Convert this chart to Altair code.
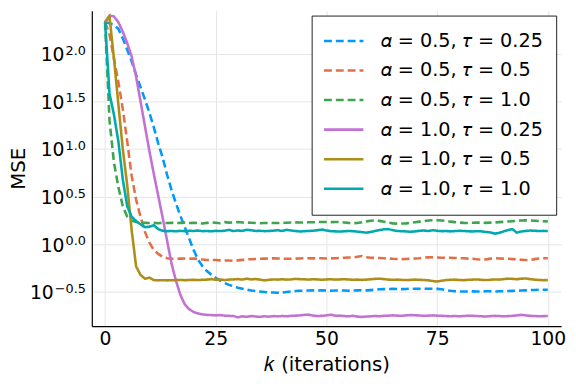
import altair as alt
import pandas as pd

FONT = "DejaVu Sans"

k_values = list(range(101))

series_labels = [
    "𝛼 = 0.5, 𝜏 = 0.25",
    "𝛼 = 0.5, 𝜏 = 0.5",
    "𝛼 = 0.5, 𝜏 = 1.0",
    "𝛼 = 1.0, 𝜏 = 0.25",
    "𝛼 = 1.0, 𝜏 = 0.5",
    "𝛼 = 1.0, 𝜏 = 1.0",
]
series_colors = ["#009AFA", "#E36F47", "#3EA44E", "#C371D2", "#AC8E18", "#00A9AD"]
series_dashes = [[8, 4], [8, 4], [8, 4], [1, 0], [1, 0], [1, 0]]

# log10(MSE), k = 0..100
log_mse_a05_t025 = [
    2.33, 2.32, 2.30, 2.26, 2.16, 2.04, 1.92, 1.78, 1.65, 1.52,
    1.38, 1.23, 1.06, 0.91, 0.73, 0.57, 0.43, 0.30, 0.18, 0.06,
    -0.06, -0.16, -0.23, -0.28, -0.32, -0.35, -0.38, -0.405, -0.425, -0.44,
    -0.455, -0.465, -0.475, -0.485, -0.49, -0.495, -0.50, -0.505, -0.505, -0.507,
    -0.505, -0.50, -0.495, -0.49, -0.487, -0.485, -0.485, -0.483, -0.484, -0.483,
    -0.485, -0.486, -0.485, -0.484, -0.485, -0.486, -0.484, -0.483, -0.482, -0.483,
    -0.48, -0.476, -0.472, -0.47, -0.468, -0.467, -0.469, -0.47, -0.468, -0.466,
    -0.466, -0.467, -0.466, -0.465, -0.466, -0.467, -0.472, -0.48, -0.487, -0.492,
    -0.494, -0.495, -0.494, -0.493, -0.495, -0.494, -0.493, -0.492, -0.494, -0.493,
    -0.492, -0.49, -0.488, -0.486, -0.485, -0.483, -0.48, -0.478, -0.477, -0.476,
    -0.476,
]
log_mse_a05_t05 = [
    2.33, 2.20, 1.95, 1.70, 1.42, 1.08, 0.72, 0.47, 0.29, 0.13,
    0.02, -0.06, -0.10, -0.13, -0.145, -0.15, -0.152, -0.15, -0.148, -0.152,
    -0.15, -0.153, -0.16, -0.165, -0.163, -0.165, -0.168, -0.170, -0.17, -0.172,
    -0.168, -0.163, -0.158, -0.156, -0.153, -0.152, -0.15, -0.148, -0.147, -0.149,
    -0.150, -0.152, -0.151, -0.150, -0.148, -0.146, -0.145, -0.147, -0.145, -0.146,
    -0.148, -0.147, -0.145, -0.143, -0.14, -0.138, -0.137, -0.13, -0.122, -0.135,
    -0.14, -0.143, -0.144, -0.146, -0.149, -0.152, -0.153, -0.155, -0.153, -0.15,
    -0.148, -0.145, -0.14, -0.137, -0.135, -0.138, -0.14, -0.142, -0.14, -0.143,
    -0.145, -0.146, -0.15, -0.152, -0.157, -0.16, -0.158, -0.15, -0.146, -0.148,
    -0.15, -0.152, -0.155, -0.158, -0.162, -0.165, -0.163, -0.155, -0.148, -0.145,
    -0.145,
]
log_mse_a05_t10 = [
    2.33, 1.30, 0.86, 0.60, 0.40, 0.29, 0.25, 0.235, 0.228, 0.225,
    0.223, 0.225, 0.222, 0.226, 0.224, 0.227, 0.222, 0.225, 0.228, 0.224,
    0.226, 0.222, 0.219, 0.225, 0.229, 0.226, 0.222, 0.233, 0.228, 0.23,
    0.234, 0.23, 0.228, 0.226, 0.224, 0.222, 0.224, 0.224, 0.223, 0.224,
    0.226, 0.227, 0.229, 0.23, 0.229, 0.23, 0.231, 0.232, 0.233, 0.234,
    0.234, 0.233, 0.234, 0.234, 0.23, 0.225, 0.222, 0.224, 0.232, 0.241,
    0.247, 0.25, 0.246, 0.238, 0.228, 0.22, 0.217, 0.218, 0.22, 0.226,
    0.232, 0.238, 0.244, 0.25, 0.252, 0.252, 0.25, 0.245, 0.238, 0.233,
    0.228, 0.225, 0.224, 0.226, 0.228, 0.227, 0.225, 0.228, 0.23, 0.233,
    0.236, 0.239, 0.243, 0.247, 0.25, 0.252, 0.25, 0.247, 0.244, 0.242,
    0.241,
]
log_mse_a10_t025 = [
    2.33, 2.40, 2.39, 2.33, 2.23, 2.11, 1.97, 1.76, 1.50, 1.24,
    0.98, 0.74, 0.51, 0.28, 0.04, -0.20, -0.38, -0.53, -0.63, -0.68,
    -0.71, -0.725, -0.735, -0.74, -0.742, -0.745, -0.742, -0.748, -0.75, -0.752,
    -0.765, -0.755, -0.76, -0.752, -0.757, -0.76, -0.755, -0.758, -0.753, -0.756,
    -0.752, -0.755, -0.75, -0.748, -0.745, -0.74, -0.737, -0.748, -0.752, -0.75,
    -0.745, -0.738, -0.75, -0.748, -0.752, -0.755, -0.75, -0.758, -0.762, -0.757,
    -0.755, -0.752, -0.754, -0.75, -0.748, -0.745, -0.748, -0.75, -0.745, -0.742,
    -0.744, -0.746, -0.75, -0.748, -0.745, -0.748, -0.75, -0.752, -0.754, -0.752,
    -0.755, -0.752, -0.748, -0.75, -0.752, -0.755, -0.757, -0.753, -0.75, -0.752,
    -0.755, -0.753, -0.75, -0.745, -0.74, -0.745, -0.75, -0.752, -0.754, -0.753,
    -0.752,
]
log_mse_a10_t05 = [
    2.33, 2.39, 1.95, 1.47, 1.00, 0.62, 0.15, -0.23, -0.32, -0.36,
    -0.35, -0.375, -0.378, -0.376, -0.378, -0.377, -0.375, -0.373, -0.376, -0.374,
    -0.372, -0.375, -0.372, -0.37, -0.365, -0.372, -0.368, -0.375, -0.37, -0.368,
    -0.365, -0.37, -0.36, -0.368, -0.364, -0.37, -0.378, -0.372, -0.368, -0.37,
    -0.366, -0.37, -0.368, -0.362, -0.365, -0.367, -0.37, -0.366, -0.368, -0.372,
    -0.368, -0.366, -0.37, -0.368, -0.365, -0.369, -0.372, -0.37, -0.373, -0.37,
    -0.366, -0.362, -0.36, -0.365, -0.37, -0.372, -0.37, -0.373, -0.375, -0.373,
    -0.37, -0.372, -0.374, -0.378, -0.385, -0.39, -0.382, -0.375, -0.372, -0.37,
    -0.374, -0.376, -0.372, -0.37, -0.368, -0.372, -0.375, -0.372, -0.368, -0.37,
    -0.365, -0.36, -0.362, -0.366, -0.36, -0.358, -0.365, -0.37, -0.374, -0.376,
    -0.375,
]
log_mse_a10_t10 = [
    2.33, 1.58, 1.36, 1.08, 0.68, 0.40, 0.29, 0.245, 0.21, 0.18,
    0.185, 0.20, 0.16, 0.142, 0.138, 0.14, 0.137, 0.141, 0.138, 0.142,
    0.14, 0.145, 0.138, 0.14, 0.137, 0.142, 0.139, 0.143, 0.152, 0.14,
    0.145, 0.141, 0.152, 0.148, 0.14, 0.142, 0.138, 0.14, 0.143, 0.148,
    0.14, 0.152, 0.145, 0.14, 0.135, 0.138, 0.14, 0.143, 0.148, 0.155,
    0.145, 0.138, 0.136, 0.134, 0.137, 0.14, 0.138, 0.133, 0.128, 0.122,
    0.13, 0.14, 0.15, 0.158, 0.16, 0.148, 0.14, 0.138, 0.135, 0.132,
    0.136, 0.142, 0.145, 0.14, 0.148, 0.142, 0.138, 0.14, 0.136, 0.139,
    0.142, 0.14, 0.137, 0.135, 0.138, 0.136, 0.13, 0.125, 0.112, 0.12,
    0.135, 0.15, 0.16, 0.122, 0.135, 0.14, 0.145, 0.142, 0.14, 0.141,
    0.14,
]

all_series = [log_mse_a05_t025, log_mse_a05_t05, log_mse_a05_t10,
              log_mse_a10_t025, log_mse_a10_t05, log_mse_a10_t10]

x_ticks = [0, 25, 50, 75, 100]
y_tick_exps = [-0.5, 0.0, 0.5, 1.0, 1.5, 2.0]
y_tick_exp_labels = ["−0.5", "0.0", "0.5", "1.0", "1.5", "2.0"]

rows = []
for label, vals in zip(series_labels, all_series):
    for k, v in zip(k_values, vals):
        rows.append({"series": label, "k": k, "mse": 10 ** v})
df = pd.DataFrame(rows)

y_domain = [10 ** -0.858, 10 ** 2.451]
TICK_FS = 19
TITLE_FS = 20
LEGEND_FS = 19.5
EXP_FS = 13

legend = alt.Legend(
    title=None, orient="none", legendX=223, legendY=5,
    symbolType="stroke", symbolSize=1600, symbolStrokeWidth=2.6,
    labelFont=FONT, labelFontSize=LEGEND_FS, labelOffset=16, labelLimit=0,
    labelColor="black", padding=11, rowPadding=0, clipHeight=29.4,
    fillColor="white", strokeColor="#222222",
)

lines = alt.Chart(df).mark_line(strokeWidth=2.6, clip=True).encode(
    x=alt.X("k:Q",
            scale=alt.Scale(domain=[-3, 103], nice=False, zero=False),
            axis=alt.Axis(values=x_ticks, title="𝑘 (iterations)", ticks=False, tickSize=0,
                          labelPadding=13, labelBaseline="middle", labelFontSize=TICK_FS,
                          titleFontSize=TITLE_FS, titleY=39, titleBaseline="middle",
                          format="d")),
    y=alt.Y("mse:Q",
            scale=alt.Scale(type="log", domain=y_domain, nice=False),
            axis=alt.Axis(values=[10 ** e for e in y_tick_exps], labels=False, ticks=False,
                          tickSize=0, title="MSE", titleFontSize=TITLE_FS,
                          titleX=-74, titleY=160, titleAlign="center",
                          titleBaseline="middle", titleAngle=270)),
    color=alt.Color("series:N", scale=alt.Scale(domain=series_labels, range=series_colors),
                    legend=legend),
    strokeDash=alt.StrokeDash("series:N",
                              scale=alt.Scale(domain=series_labels, range=series_dashes),
                              legend=legend),
)

# DejaVu Sans advance widths (em) for exponent layout
adv = {"0": 0.636, "1": 0.636, "2": 0.636, "5": 0.636, ".": 0.318, "−": 0.838}

layers = [lines]
for e, lbl in zip(y_tick_exps, y_tick_exp_labels):
    w = sum(adv[c] for c in lbl) * EXP_FS
    d = pd.DataFrame({"mse": [10 ** e], "exp": [lbl]})
    layers.append(
        alt.Chart(d).mark_text(text="10", align="right", baseline="alphabetic", dy=7.5,
                               fontSize=TICK_FS, font=FONT, color="black").encode(
            x=alt.value(-6 - w - 1), y="mse:Q")
    )
    layers.append(
        alt.Chart(d).mark_text(align="right", baseline="alphabetic", dy=1,
                               fontSize=EXP_FS, font=FONT, color="black").encode(
            x=alt.value(-6), y="mse:Q", text="exp:N")
    )

chart = alt.layer(*layers).properties(
    width=476, height=320,
    autosize=alt.AutoSizeParams(type="none"),
    padding={"left": 85, "top": 0, "right": 7, "bottom": 56},
).configure(font=FONT).configure_view(stroke="transparent").configure_axis(
    grid=True, gridColor="#e6e6e6", gridWidth=1,
    domainColor="black", domainWidth=1.2,
    labelColor="black", titleColor="black", titleFontWeight="normal",
    labelFont=FONT, titleFont=FONT,
)

chart.save("out.html", embed_options={"renderer": "svg", "actions": False})
